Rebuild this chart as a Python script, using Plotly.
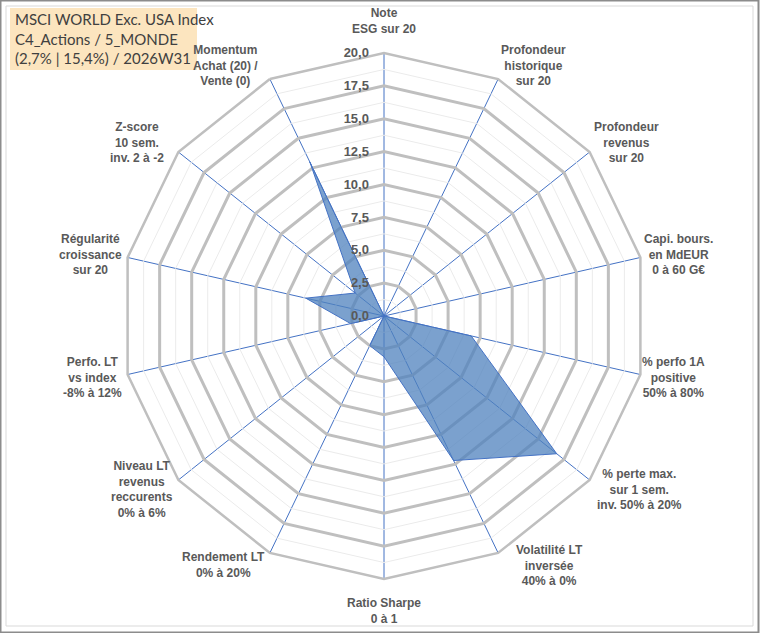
import plotly.graph_objects as go

# Critères du radar (sens horaire à partir du haut)
criteres = [
    "Note<br>ESG sur 20",
    "Profondeur<br>historique<br>sur 20",
    "Profondeur<br>revenus<br>sur 20",
    "Capi. bours.<br>en MdEUR<br>0 à 60 G€",
    "% perfo 1A<br>positive<br>50% à 80%",
    "% perte max.<br>sur 1 sem.<br>inv. 50% à 20%",
    "Volatilité LT<br>inversée<br>40% à 0%",
    "Ratio Sharpe<br>0 à 1",
    "Rendement LT<br>0% à 20%",
    "Niveau LT<br>revenus<br>reccurents<br>0% à 6%",
    "Perfo. LT<br>vs index<br>-8% à 12%",
    "Régularité<br>croissance<br>sur 20",
    "Z-score<br>10 sem.<br>inv. 2 à -2",
    "Momentum<br>Achat (20) /<br>Vente (0)",
]
notes = [0, 0, 0, 0, 6.8, 16.8, 12.2, 3.1, 2.5, 0, 2.6, 6.1, 2.8, 13.0]

graduations = [0, 2.5, 5, 7.5, 10, 12.5, 15, 17.5, 20]
graduations_mineures = [1.25, 3.75, 6.25, 8.75, 11.25, 13.75, 16.25, 18.75]

titre = "MSCI WORLD Exc. USA Index<br>C4_Actions / 5_MONDE<br>(2,7% | 15,4%) / 2026W31"

# position (px) du centre de chaque libellé, comme dans Excel
pos_libelles = [(384, 21), (533, 66), (626, 143), (678, 254), (673, 378), (639, 489),
                (549, 565), (384, 611), (223, 565), (142, 489), (92, 377), (90, 254),
                (137, 143), (226, 66)]

W, H = 760, 633

fig = go.Figure()

# quadrillage secondaire (gris très clair)
for g in graduations_mineures:
    fig.add_trace(go.Scatterpolar(r=[g] * (len(criteres) + 1), theta=criteres + [criteres[0]],
                                  mode="lines", line=dict(color="#EBEBEB", width=1),
                                  hoverinfo="skip", showlegend=False))

fig.add_trace(go.Scatterpolar(r=notes + [notes[0]], theta=criteres + [criteres[0]],
                              mode="lines", fill="toself",
                              fillcolor="rgba(79,129,189,0.75)",
                              line=dict(color="#4472C4", width=1),
                              name="Notes", showlegend=False))

fig.update_layout(
    width=W, height=H,
    margin=dict(l=0, r=0, t=0, b=0),
    paper_bgcolor="white",
    separators=", ",
    font=dict(family="Liberation Sans, Arial, sans-serif", size=12, color="#595959"),
    polar=dict(
        domain=dict(x=[(384 - 263) / W, (384 + 263) / W],
                    y=[(H - 316 - 263) / H, (H - 316 + 263) / H]),
        bgcolor="white",
        gridshape="linear",
        angularaxis=dict(direction="clockwise", rotation=90,
                         gridcolor="#4472C4", gridwidth=1,
                         showline=True, linecolor="#BFBFBF", linewidth=2.5,
                         ticks="", showticklabels=False),
        radialaxis=dict(range=[0, 20], tickvals=graduations, tickformat=".1f",
                        angle=90, side="counterclockwise", tickangle=90,
                        showline=False, ticks="outside", ticklen=10,
                        tickcolor="rgba(0,0,0,0)",
                        gridcolor="#BFBFBF", gridwidth=2.5,
                        tickfont=dict(size=13, color="#595959", weight="bold")),
    ),
)

# libellés des axes
for lib, (px, py) in zip(criteres, pos_libelles):
    fig.add_annotation(text=lib, xref="paper", yref="paper", x=px / W, y=1 - py / H,
                       xanchor="center", yanchor="middle", align="center", showarrow=False,
                       font=dict(size=12, color="#595959", weight="bold"))

# cadre du graphique
fig.add_shape(type="rect", xref="paper", yref="paper", x0=0.5 / W, y0=0.5 / H,
              x1=1 - 1.5 / W, y1=1 - 0.5 / H, line=dict(color="#8C8C8C", width=2))
fig.add_shape(type="rect", xref="paper", yref="paper", x0=6 / W, y0=1 - 626 / H,
              x1=753 / W, y1=1 - 6 / H, line=dict(color="#D9D9D9", width=1))

# cartouche du titre
fig.add_shape(type="rect", xref="paper", yref="paper", x0=10 / W, y0=1 - 70 / H,
              x1=197 / W, y1=1 - 8 / H, line=dict(width=0), fillcolor="#FCE5BF", layer="above")
fig.add_annotation(text=titre, xref="paper", yref="paper", x=13 / W, y=1 - 39 / H,
                   xanchor="left", yanchor="middle", align="left", showarrow=False,
                   font=dict(family="Lato, Open Sans, sans-serif", size=15, color="#404040"))

fig.write_html("out.html", config={"displayModeBar": False},
               post_script="document.body.style.margin='0';document.body.style.overflow='hidden';")
